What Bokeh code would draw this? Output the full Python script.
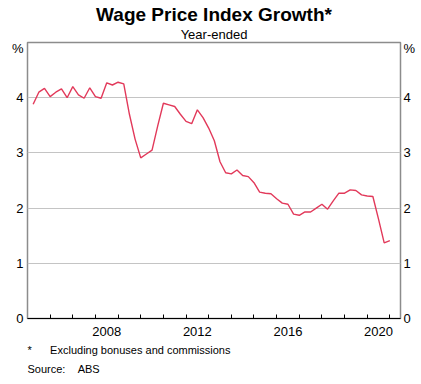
from bokeh.plotting import figure
from bokeh.models import (Range1d, LinearAxis, FixedTicker, CustomJSTickFormatter,
                          Title, ColumnDataSource)
from bokeh.embed import file_html
from bokeh.resources import INLINE

# ---- data ----
start_year = 2005
start_quarter = 1  # March quarter 2005
wpi_growth = [
    3.88, 4.10, 4.17, 4.02, 4.10, 4.16, 4.00, 4.20, 4.05, 3.99, 4.18, 4.02,
    3.99, 4.27, 4.23, 4.28, 4.25, 3.70, 3.25, 2.91, 2.98, 3.05, 3.49, 3.90,
    3.87, 3.84, 3.70, 3.57, 3.53, 3.78, 3.64, 3.45, 3.22, 2.84, 2.64, 2.62,
    2.69, 2.59, 2.57, 2.46, 2.29, 2.27, 2.26, 2.17, 2.09, 2.07, 1.89, 1.87,
    1.93, 1.93, 2.00, 2.07, 1.98, 2.13, 2.27, 2.27, 2.33, 2.32, 2.24, 2.22,
    2.21, 1.80, 1.37, 1.41,
]
year_ticks = list(range(2006, 2022))
year_labels = [2008, 2012, 2016, 2020]
y_ticks = [0, 1, 2, 3, 4]
unit_label = "%"

title_text = "Wage Price Index Growth*"
subtitle_text = "Year-ended"
footnote_mark = "*"
footnote_text = "Excluding bonuses and commissions"
source_label = "Source:"
source_text = "ABS"

# quarter-end positions in decimal years
x_vals = [start_year + (start_quarter - 1 + i + 1) / 4 for i in range(len(wpi_growth))]

FONT = "Liberation Sans"
W, H = 421, 384
NB = "\u00a0"

p = figure(width=W, height=H, output_backend="svg", toolbar_location=None,
           title=None,
           x_range=Range1d(2005.0, 2021.47), y_range=Range1d(0, 5),
           min_border_left=27, min_border_right=21, min_border_top=42,
           min_border_bottom=66, background_fill_color="white",
           border_fill_color="white")
p.outline_line_color = "#8c8c8c"
p.outline_line_width = 1.5

src = ColumnDataSource(dict(x=x_vals, y=wpi_growth))
p.line("x", "y", source=src, line_color="#e2395a", line_width=1.4)

# bottom axis
xa = p.xaxis[0]
xa.ticker = FixedTicker(ticks=[y + 0.5 for y in year_labels], minor_ticks=year_ticks)
xa.formatter = CustomJSTickFormatter(code="return String(Math.floor(tick));")
xa.major_tick_in = 0
xa.major_tick_out = 0
xa.minor_tick_in = 4
xa.minor_tick_out = 0
xa.minor_tick_line_color = "black"
xa.axis_line_color = "black"
xa.axis_line_width = 1.2
xa.major_label_text_font = FONT
xa.major_label_text_font_size = "13px"
xa.major_label_text_color = "black"
xa.major_label_standoff = 8

# left and right axes; the unit sits just under the top of the frame
ya = p.yaxis[0]
ra = LinearAxis()
p.add_layout(ra, "right")
for ax, so in ((ya, 4), (ra, 3)):
    ax.ticker = FixedTicker(ticks=y_ticks + [4.9])
    ax.major_label_overrides = {4.9: unit_label}
    ax.major_tick_in = 0
    ax.major_tick_out = 0
    ax.minor_tick_in = 0
    ax.minor_tick_out = 0
    ax.axis_line_color = None
    ax.major_label_text_font = FONT
    ax.major_label_text_font_size = "13px"
    ax.major_label_text_color = "black"
    ax.major_label_standoff = so

p.xgrid.visible = False
p.ygrid.ticker = FixedTicker(ticks=[1, 2, 3, 4])
p.ygrid.grid_line_color = "#c4c4c4"
p.ygrid.grid_line_width = 1

# titles (closest to the frame first)
p.add_layout(Title(text=subtitle_text, align="center", text_font=FONT,
                   text_font_size="13px", text_font_style="normal",
                   text_color="black", standoff=1), "above")
p.add_layout(Title(text=title_text, align="center", text_font=FONT,
                   text_font_size="19px", text_font_style="bold",
                   text_color="black", standoff=0), "above")

# footnotes below the axis
p.add_layout(Title(text=footnote_mark + NB * 6 + footnote_text, align="left",
                   text_font=FONT, text_font_size="11px",
                   text_font_style="normal", text_color="black",
                   standoff=6), "below")
p.add_layout(Title(text=source_label + NB * 4 + source_text, align="left",
                   text_font=FONT, text_font_size="11px",
                   text_font_style="normal", text_color="black",
                   standoff=5), "below")

open("out.html", "w").write(file_html(p, INLINE))
